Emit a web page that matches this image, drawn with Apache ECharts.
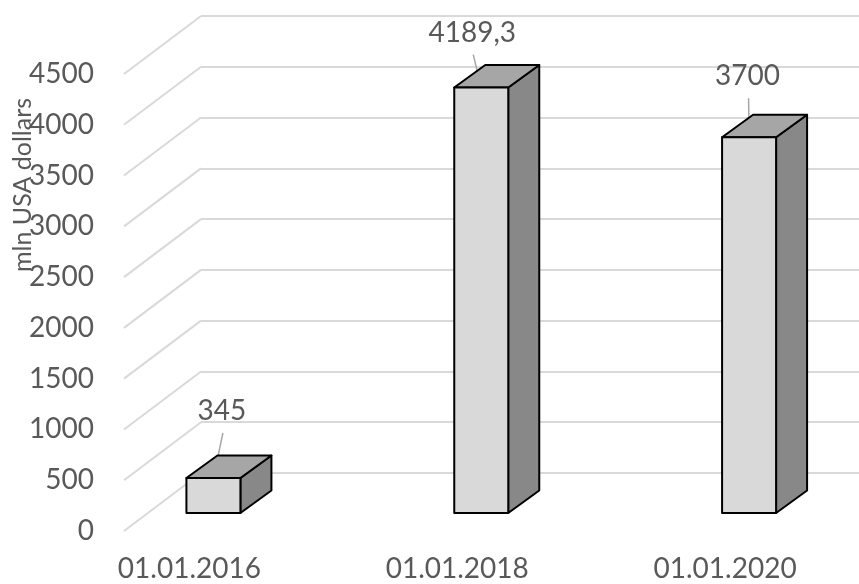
<!DOCTYPE html>
<html>
<head>
<meta charset="utf-8">
<script src="https://cdn.jsdelivr.net/npm/echarts@6/dist/echarts.min.js"></script>
<style>
html,body{margin:0;padding:0;background:#ffffff;}
#chart{width:859px;height:584px;}
</style>
</head>
<body>
<div id="chart"></div>
<script>
// ---- data ----
const categories = ['01.01.2016', '01.01.2018', '01.01.2020'];
const values = [345, 4189.3, 3700];
const valueLabels = ['345', '4189,3', '3700'];
const yMin = 0;
const yMax = 4500;
const yStep = 500;
const yTicks = [0, 500, 1000, 1500, 2000, 2500, 3000, 3500, 4000, 4500];
const axisTitle = 'mln USA dollars';

// ---- style constants ----
const FONT = 'Lato';
const TXT = '#595959';
const GRID_C = '#d9d9d9';
const WALL = { dx: 77, dy: -58 };      // depth of the side wall
const BAR_FRONT = { dx: 24, dy: -18 }; // bar front face offset from floor front
const BAR_DEPTH = { dx: 31, dy: -22.5 };
const BAR_HALF = 27;
const LABEL_NUDGE = [[8.5, -67], [-9, -55], [-1.5, -61]];

const chart = echarts.init(document.getElementById('chart'), null, { renderer: 'canvas' });

const option = {
  backgroundColor: '#ffffff',
  animation: false,
  grid: [
    { left: 55.5, width: 807, top: 74, bottom: 53 },   // floor-front plane (categories)
    { left: 124, width: 1, top: 74, bottom: 53 },      // value labels at front edge
    { left: 201, right: 0, top: 16, bottom: 111 }      // back wall
  ],
  xAxis: [
    {
      gridIndex: 0, type: 'category', data: categories,
      axisLine: { show: false }, axisTick: { show: false }, splitLine: { show: false },
      axisLabel: { color: TXT, fontSize: 28, fontFamily: FONT, margin: 24 }
    },
    { gridIndex: 1, type: 'value', min: 0, max: 1, show: false },
    { gridIndex: 2, type: 'value', min: 0, max: 1, show: false }
  ],
  yAxis: [
    { gridIndex: 0, type: 'value', min: yMin, max: yMax, interval: yStep, show: false },
    {
      gridIndex: 1, type: 'value', min: yMin, max: yMax, interval: yStep,
      axisLine: { show: false }, axisTick: { show: false }, splitLine: { show: false },
      axisLabel: {
        color: TXT, fontSize: 28, fontFamily: FONT, margin: 30,
        formatter: function (v) { return String(v); }
      }
    },
    {
      gridIndex: 2, type: 'value', min: yMin, max: yMax, interval: yStep,
      axisLine: { show: false }, axisTick: { show: false }, axisLabel: { show: false },
      splitLine: { show: true, lineStyle: { color: GRID_C, width: 2 } }
    }
  ],
  graphic: [
    {
      type: 'text', x: 23, y: 185, rotation: Math.PI / 2,
      style: {
        text: axisTitle, fill: TXT, font: '25px ' + FONT,
        align: 'center', verticalAlign: 'middle'
      }
    }
  ],
  series: [
    {
      type: 'custom', xAxisIndex: 1, yAxisIndex: 1, clip: false, silent: true, z: 1,
      data: yTicks.map(t => [0, t]),
      renderItem: function (params, api) {
        const p = api.coord([0, api.value(1)]);
        return {
          type: 'line',
          shape: { x1: p[0], y1: p[1], x2: p[0] + WALL.dx, y2: p[1] + WALL.dy },
          style: { stroke: GRID_C, lineWidth: 2 }
        };
      }
    },
    {
      type: 'custom', xAxisIndex: 0, yAxisIndex: 0, clip: false, silent: true, z: 3,
      data: values.map((v, i) => [i, v]),
      renderItem: function (params, api) {
        const i = api.value(0);
        const v = api.value(1);
        const base = api.coord([i, 0]);
        const top = api.coord([i, v]);
        const cx = base[0] + BAR_FRONT.dx;
        const yb = base[1] + BAR_FRONT.dy;
        const yt = top[1] + BAR_FRONT.dy;
        const xl = cx - BAR_HALF, xr = cx + BAR_HALF;
        const dx = BAR_DEPTH.dx, dy = BAR_DEPTH.dy;
        const edge = { stroke: '#000000', lineWidth: 2, lineJoin: 'round' };
        const nudge = LABEL_NUDGE[i];
        const lx = cx + nudge[0], ly = yt + nudge[1];
        return {
          type: 'group',
          children: [
            {
              type: 'line',
              shape: { x1: lx + 1, y1: ly + 22, x2: cx, y2: yt },
              style: { stroke: '#a6a6a6', lineWidth: 1.5 }
            },
            {
              type: 'polygon',
              shape: { points: [[xr, yt], [xr + dx, yt + dy], [xr + dx, yb + dy], [xr, yb]] },
              style: Object.assign({ fill: '#888888' }, edge)
            },
            {
              type: 'polygon',
              shape: { points: [[xl, yt], [xl + dx, yt + dy], [xr + dx, yt + dy], [xr, yt]] },
              style: Object.assign({ fill: '#a6a6a6' }, edge)
            },
            {
              type: 'polygon',
              shape: { points: [[xl, yt], [xr, yt], [xr, yb], [xl, yb]] },
              style: Object.assign({ fill: '#d9d9d9' }, edge)
            },
            {
              type: 'text',
              x: lx, y: ly,
              style: {
                text: valueLabels[i], fill: TXT, font: '28px ' + FONT,
                align: 'center', verticalAlign: 'middle'
              }
            }
          ]
        };
      }
    }
  ]
};

chart.setOption(option);
</script>
</body>
</html>
